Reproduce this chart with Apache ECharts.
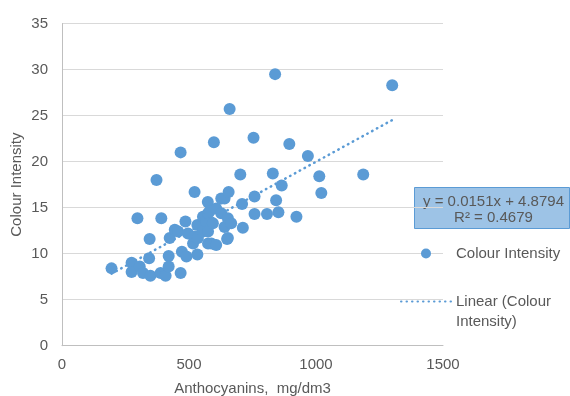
<!DOCTYPE html>
<html>
<head>
<meta charset="utf-8">
<script src="https://cdn.jsdelivr.net/npm/echarts@6/dist/echarts.min.js"></script>
<style>
  html, body { margin: 0; padding: 0; background: #fff; }
  #chart { width: 570px; height: 396px; }
</style>
</head>
<body>
<div id="chart"></div>
<script>
// values
const anthocyanins = [
  195, 274, 274, 297, 306, 319, 343, 345, 348, 372,
  388, 391, 408, 420, 420, 424, 444, 457, 467, 467,
  472, 490, 486, 496, 516, 522, 522, 533, 533, 535,
  555, 555, 568, 574, 575, 575, 575, 581, 588, 594,
  598, 607, 607, 627, 627, 640, 640, 650, 653, 653,
  656, 660, 666, 702, 709, 712, 754, 758, 758, 807,
  830, 839, 843, 852, 865, 895, 923, 968, 1013, 1021,
  1186, 1300
];
const colourIntensity = [
  8.4, 9.0, 8.0, 13.85, 8.6, 7.9, 9.5, 11.6, 7.6, 18.0,
  7.9, 13.85, 7.6, 9.75, 8.6, 11.7, 12.6, 12.4, 21.0, 7.9,
  10.2, 9.7, 13.5, 12.2, 11.1, 16.7, 11.85, 9.9, 13.1, 11.7,
  14.0, 12.4, 13.5, 15.6, 14.4, 12.4, 11.1, 14.6, 11.1, 13.3,
  22.1, 14.9, 10.95, 16.0, 14.4, 16.0, 12.9, 11.6, 13.85, 11.7,
  16.7, 25.7, 13.3, 18.6, 15.4, 12.8, 22.6, 16.2, 14.3, 14.3,
  18.7, 29.5, 15.8, 14.5, 17.4, 21.9, 14.0, 20.6, 18.4, 16.6,
  18.6, 28.3
];
const xTicks = [0, 500, 1000, 1500];
const yTicks = [0, 5, 10, 15, 20, 25, 30, 35];
// trendline as printed on the chart
const slope = 0.0151;
const intercept = 4.8794;
const rSquared = 0.4679;

const textColor = "#595959";
const blue = "#5b9bd5";
const font = "Liberation Sans";

const points = anthocyanins.map((x, i) => [x, colourIntensity[i]]);
const xMinData = Math.min(...anthocyanins);
const xMaxData = Math.max(...anthocyanins);
const trend = [
  [xMinData, intercept + slope * xMinData],
  [xMaxData, intercept + slope * xMaxData],
];

const chart = echarts.init(document.getElementById("chart"));

chart.setOption({
  animation: false,
  backgroundColor: "#fff",
  textStyle: { fontFamily: font },
  grid: {
    left: 62,
    right: 127,
    top: 23.5,
    bottom: 50.3,
    containLabel: false,
    outerBoundsMode: "none",
  },
  xAxis: {
    type: "value",
    min: xTicks[0],
    max: xTicks[xTicks.length - 1],
    interval: 500,
    name: "Anthocyanins,  mg/dm3",
    nameLocation: "middle",
    nameGap: 36,
    nameMoveOverlap: false,
    nameTextStyle: { color: textColor, fontSize: 15, fontFamily: font },
    axisLine: { show: true, lineStyle: { color: "#bfbfbf", width: 1 } },
    axisTick: { show: false },
    axisLabel: {
      color: textColor,
      fontSize: 15,
      margin: 12,
      fontFamily: font,
      formatter: (v) => String(v),
    },
    splitLine: { show: false },
  },
  yAxis: {
    type: "value",
    min: yTicks[0],
    max: yTicks[yTicks.length - 1],
    interval: 5,
    name: "Colour Intensity",
    nameLocation: "middle",
    nameGap: 38,
    nameMoveOverlap: false,
    nameTextStyle: { color: textColor, fontSize: 15, fontFamily: font },
    axisLine: { show: true, lineStyle: { color: "#bfbfbf", width: 1 } },
    axisTick: { show: false },
    axisLabel: { color: textColor, fontSize: 15, margin: 14, fontFamily: font },
    splitLine: { lineStyle: { color: "#d9d9d9", width: 1 } },
  },
  legend: [
    {
      data: ["Colour Intensity"],
      orient: "vertical",
      left: 421,
      top: 246,
      padding: 0,
      itemWidth: 50,
      itemHeight: 10,
      textStyle: { color: textColor, fontSize: 15, fontFamily: font },
    },
    {
      data: ["Linear (Colour Intensity)"],
      orient: "vertical",
      left: 400,
      top: 294,
      padding: 0,
      itemWidth: 50,
      itemHeight: 14,
      itemStyle: { opacity: 0 },
      formatter: () => "Linear (Colour",
      textStyle: { color: textColor, fontSize: 15, fontFamily: font },
    },
  ],
  series: [
    {
      name: "Linear (Colour Intensity)",
      type: "line",
      data: trend,
      symbol: "none",
      z: 1,
      lineStyle: { color: blue, width: 2.5, type: [0.5, 5], cap: "round" },
      itemStyle: { color: blue },
    },
    {
      name: "Colour Intensity",
      type: "scatter",
      data: points,
      symbol: "circle",
      symbolSize: 12,
      z: 2,
      itemStyle: { color: blue, opacity: 1 },
    },
  ],
  graphic: [
    {
      // wrapped second line of the trendline legend label
      type: "text",
      left: 456,
      top: 314,
      style: {
        text: "Intensity)",
        fill: textColor,
        font: "15px " + font,
      },
    },
    {
      type: "group",
      left: 414,
      top: 187,
      children: [
        {
          type: "rect",
          shape: { x: 0, y: 0, width: 155, height: 41 },
          style: { fill: "#9dc3e6", stroke: blue, lineWidth: 1 },
        },
        {
          type: "text",
          x: 79,
          y: 22,
          style: {
            text: "y = " + slope + "x + " + intercept + "\nR² = " + rSquared,
            fill: textColor,
            font: "15px " + font,
            align: "center",
            verticalAlign: "middle",
            lineHeight: 16,
          },
        },
      ],
    },
  ],
});
</script>
</body>
</html>
